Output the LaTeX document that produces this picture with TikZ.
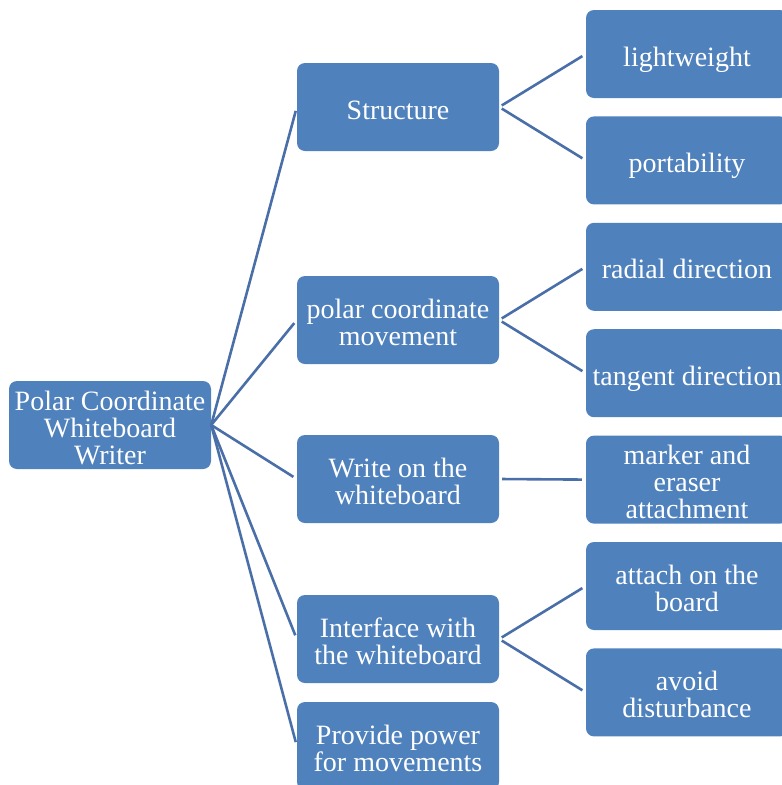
\documentclass[tikz,border=0pt]{standalone}
\usepackage{fontspec}
\setmainfont{Liberation Serif}
\usepackage{xcolor}
\usepackage{tikz}
\usetikzlibrary{positioning}
\definecolor{BoxBlue}{HTML}{4F81BD}
\definecolor{LinkBlue}{HTML}{4A6FA8}

\begin{document}
\begin{tikzpicture}[x=1pt, y=-1pt, node distance=18pt,
    every node/.style={font=\fontsize{28}{27}\selectfont}]
    \tikzstyle{box}=[fill=BoxBlue, rounded corners=8pt, align=center,
                     text=white, inner sep=0pt,
                     minimum width=202pt, minimum height=88pt,
                     text height=24pt, text depth=0pt]
    \tikzstyle{two lines}=[text height=51pt]
    \tikzstyle{three lines}=[text height=78pt]
    \tikzstyle{link}=[draw=LinkBlue, line width=2.6pt,
                      shorten >=4pt]

    \useasboundingbox (0,0) rectangle (782,785);

    \node[box, three lines] (writer) at (110,425) {Polar Coordinate\\ Whiteboard\\ Writer};

    \node[box] (structure) at (398,107) {Structure};
    \node[box, two lines] (polar) at (398,320) {polar coordinate\\ movement};
    \node[box, two lines] (write) at (398,479) {Write on the\\ whiteboard};
    \node[box, two lines] (interface) at (398,639) {Interface with\\ the whiteboard};
    \node[box, two lines] (power) at (398,746) {Provide power\\ for movements};

    \node[box] (light) at (687,54) {lightweight};
    \node[box, below=of light] (portable) {portability};
    \node[box, below=of portable] (radial) {radial direction};
    \node[box, below=of radial] (tangent) {tangent direction};
    \node[box, three lines, below=of tangent] (marker) {marker and\\ eraser\\ attachment};
    \node[box, two lines, below=of marker] (attach) {attach on the\\ board};
    \node[box, two lines, below=of attach] (avoid) {avoid\\ disturbance};

    \draw[link] (writer.east) -- (structure.west);
    \draw[link] (writer.east) -- (polar.west);
    \draw[link] (writer.east) -- (write.west);
    \draw[link] (writer.east) -- (interface.west);
    \draw[link] (writer.east) -- (power.west);

    \draw[link, shorten <=3pt] (structure.east) -- (light.west);
    \draw[link, shorten <=3pt] (structure.east) -- (portable.west);
    \draw[link, shorten <=3pt] (polar.east) -- (radial.west);
    \draw[link, shorten <=3pt] (polar.east) -- (tangent.west);
    \draw[link, shorten <=3pt] (write.east) -- (marker.west);
    \draw[link, shorten <=3pt] (interface.east) -- (attach.west);
    \draw[link, shorten <=3pt] (interface.east) -- (avoid.west);

  \end{tikzpicture}
\end{document}
